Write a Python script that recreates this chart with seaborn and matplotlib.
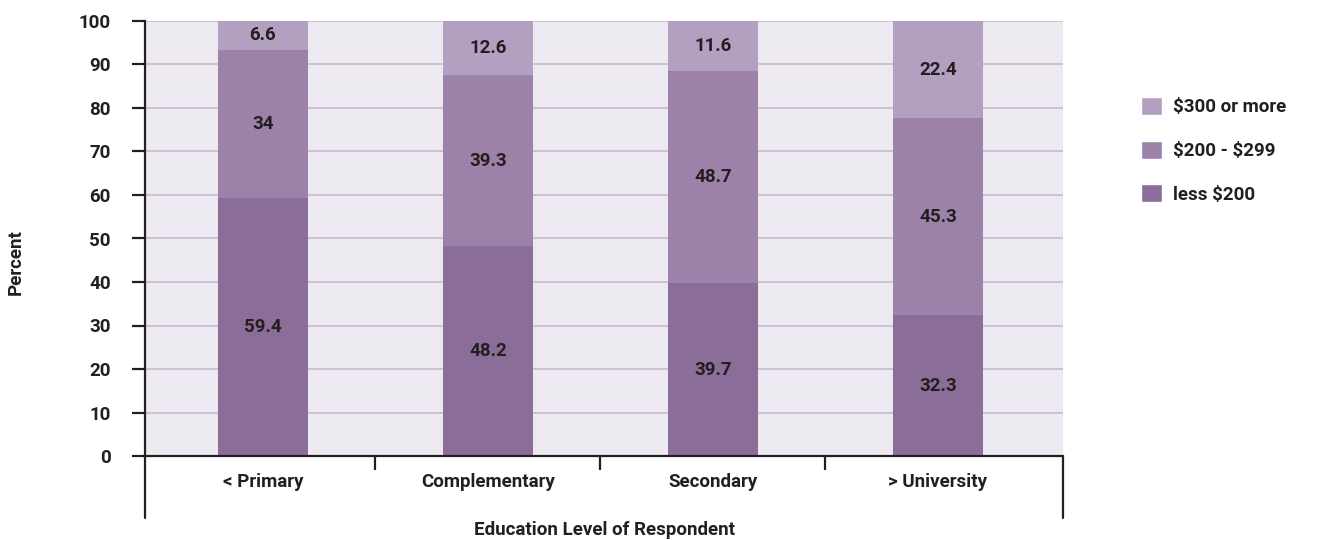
import numpy as np
import pandas as pd
import matplotlib
matplotlib.use("Agg")
import matplotlib.pyplot as plt
import seaborn as sns
from matplotlib.patches import Patch
from matplotlib.lines import Line2D

# data
categories = ["< Primary", "Complementary", "Secondary", "> University"]
less_200 = [59.4, 48.2, 39.7, 32.3]
mid_200_299 = [34, 39.3, 48.7, 45.3]
over_300 = [6.6, 12.6, 11.6, 22.4]
series_names = [r"less \$200", r"\$200 - \$299", r"\$300 or more"]
colors = ["#8b6d99", "#9c82a8", "#b39fbf"]

sns.set_theme(style="white")
plt.rcParams["font.family"] = ["Roboto", "DejaVu Sans"]
plt.rcParams["font.weight"] = "bold"
text_col = "#231f20"
fs = 13.5

fig = plt.figure(figsize=(13.2, 5.4), dpi=100)
ax = fig.add_axes([145 / 1320, 1 - 456 / 540, (1063 - 145) / 1320, (456 - 21) / 540])
ax.set_facecolor("#ece9f0")

series = [less_200, mid_200_299, over_300]
cum = np.cumsum(np.array(series), axis=0)
df = pd.DataFrame({"cat": categories})

# draw cumulative totals from the top segment down so they layer into a stack
for i in range(len(series) - 1, -1, -1):
    df["val"] = cum[i]
    sns.barplot(data=df, x="cat", y="val", color=colors[i], saturation=1,
                width=0.4, ax=ax, zorder=2, linewidth=0)

for i in range(len(series)):
    for j, cat in enumerate(categories):
        base = cum[i - 1][j] if i > 0 else 0
        ax.text(j, base + series[i][j] / 2, f"{series[i][j]:g}", ha="center", va="center",
                fontsize=fs, fontweight="bold", color=text_col, zorder=3)

ax.set_ylim(0, 100)
ax.set_xlim(-0.524, 3.556)
ax.set_yticks(range(0, 101, 10))
ax.yaxis.grid(True, color="#c9b8d3", linewidth=1.2, zorder=0)
ax.set_axisbelow(True)

for s in ["top", "right"]:
    ax.spines[s].set_visible(False)
for s in ["left", "bottom"]:
    ax.spines[s].set_color(text_col)
    ax.spines[s].set_linewidth(1.6)
    ax.spines[s].set_zorder(4)

ax.tick_params(axis="y", length=9.5, width=1.6, color=text_col, labelsize=fs,
               labelcolor=text_col, pad=15, direction="out", left=True)
ax.tick_params(axis="x", which="major", length=0, labelsize=fs, labelcolor=text_col, pad=12)
ax.set_xticks([0.5, 1.5, 2.5], minor=True)
ax.tick_params(axis="x", which="minor", length=10, width=1.6, color=text_col,
               direction="out", bottom=True)
for lab in ax.get_xticklabels() + ax.get_yticklabels():
    lab.set_fontweight("bold")

# long vertical frame lines under the x axis
for xpos in [0, 1]:
    ax.add_line(Line2D([xpos, xpos], [0, -62 / 435], transform=ax.transAxes,
                       color=text_col, linewidth=1.6, clip_on=False))

ax.set_xlabel("Education Level of Respondent", fontsize=fs, fontweight="bold",
              color=text_col, labelpad=22)
ax.set_ylabel("")
fig.text(16 / 1320, 1 - 262 / 540, "Percent", rotation=90, ha="center", va="center",
         fontsize=fs, fontweight="bold", color=text_col)

handles = [Patch(facecolor=colors[i], label=series_names[i]) for i in range(2, -1, -1)]
fig.legend(handles=handles, loc="upper left", bbox_to_anchor=(1124 / 1320, 1 - 80 / 540),
           frameon=False, handlelength=1.1, handleheight=1.1,
           labelspacing=1.3, handletextpad=0.6, labelcolor=text_col,
           prop={"weight": "bold", "size": fs})

fig.savefig("out.png", dpi=100)
